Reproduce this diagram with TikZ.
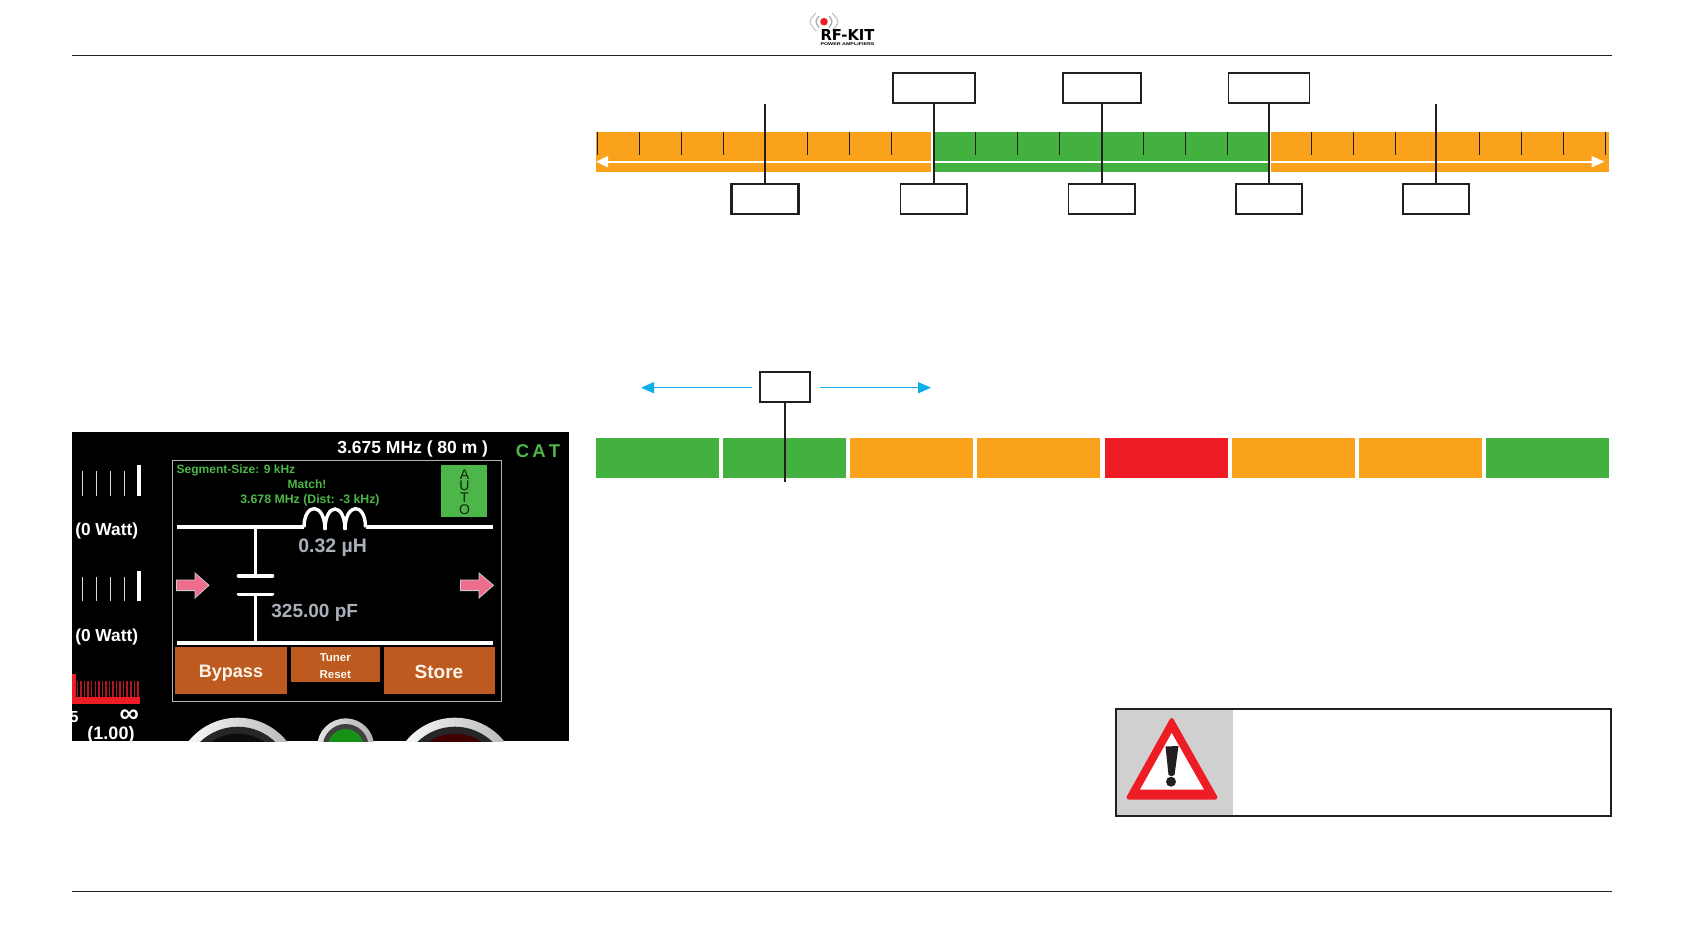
\documentclass[tikz,border=0pt]{standalone}
\usepackage{fontspec}
\setmainfont{Liberation Sans}
\newfontfamily\logofont{DejaVu Sans}
\usetikzlibrary{arrows.meta}
\newcommand{\pxf}[1]{\fontsize{#1}{#1}\selectfont}
\definecolor{barorange}{HTML}{FAA21B}
\definecolor{bargreen}{HTML}{43B140}
\definecolor{barred}{HTML}{EE1C25}
\definecolor{inkline}{HTML}{231F20}
\definecolor{cyanarrow}{HTML}{0FAEE8}
\definecolor{lcdgreen}{HTML}{4CB648}
\definecolor{btn}{HTML}{BC5A1F}
\definecolor{lcdgray}{HTML}{AAB0BA}
\definecolor{pinkarrow}{HTML}{EE6C8C}
\definecolor{warngray}{HTML}{D0D0D0}
\tikzset{
  tagbox/.style={draw=inkline,line width=1.9,fill=white,inner sep=0,outer sep=0,minimum height=30},
  leader/.style={draw=inkline,line width=2},
  tick/.style={draw=inkline,line width=0.8},
  rule/.style={draw=inkline,line width=0.9},
  cyanline/.style={draw=cyanarrow,line width=1.5,-{Triangle[length=13,width=11]}},
  txt/.style={inner sep=0,outer sep=0,font=\bfseries},
  greentxt/.style={txt,text=lcdgreen},
  wire/.style={draw=white,line width=3.8},
  pinkshape/.style={fill=pinkarrow,draw=white!80!black,line width=0.8},
}
\begin{document}
\begin{tikzpicture}[x=1pt,y=-1pt]
\useasboundingbox (0,0) rectangle (1684,947);
% header and footer
\coordinate (hl) at (72,55.5); \coordinate (hr) at (1612,55.5);
\coordinate (fl) at (72,891.5); \coordinate (fr) at (1612,891.5);
\draw[rule] (hl) -- (hr);
\draw[rule] (fl) -- (fr);
% logo
\fill[barred] (824,21.7) circle (3.8);
\draw[gray!70,line width=1.2] (819,16) .. controls (815,21.7) .. (819,27.5);
\draw[gray!70,line width=1.2] (829,16) .. controls (833,21.7) .. (829,27.5);
\draw[gray!45,line width=1.2] (816,13) .. controls (808,21.7) .. (816,31);
\draw[gray!45,line width=1.2] (832,13) .. controls (840,21.7) .. (832,31);
\node[inner sep=0] (logo) at (847.5,35.5) {\resizebox{54pt}{11pt}{\logofont\bfseries RF-KIT}};
\node[inner sep=0] (logosub) at (847.5,43.8) {\resizebox{54pt}{2.8pt}{\bfseries POWER AMPLIFIERS}};
% top bar
\fill[barorange] (596,132) rectangle (931.3,172);
\fill[bargreen] (933.3,132) rectangle (1269,172);
\fill[barorange] (1271,132) rectangle (1609,172);
\foreach \k in {0,1,2,3,5,6,7,9,10,11,13,14,15,17,18,19,21,22,23,24}
  \draw[tick] ({597.3+42*\k},132) -- ({597.3+42*\k},155.5);
\coordinate (wl) at (596,161.7); \coordinate (wr) at (1604.5,161.7);
\draw[white,line width=1.9,{Triangle[length=12,width=11]}-{Triangle[length=13,width=11]}] (wl) -- (wr);
% boxes above
\node[tagbox,minimum width=82,line width=2.2] (ta) at (933.7,88.3) {};
\node[tagbox,minimum width=78] (tb) at (1101.7,88.3) {};
\node[tagbox,minimum width=81] (tc) at (1269,88.3) {};
\coordinate (te) at (765,104);
\coordinate (tf) at (1436,104);
% boxes below
\node[tagbox,minimum width=67,line width=2.2] (ba) at (765,199.3) {};
\node[tagbox,minimum width=66.5] (bb) at (933.7,199.3) {};
\node[tagbox,minimum width=66.5] (bc) at (1101.7,199.3) {};
\node[tagbox,minimum width=66.5] (bd) at (1269,199.3) {};
\node[tagbox,minimum width=66.5] (be) at (1436,199.3) {};
\draw[leader] (te) -- (ba.north);
\draw[leader] (ta.south) -- (bb.north);
\draw[leader] (tb.south) -- (bc.north);
\draw[leader] (tc.south) -- (bd.north);
\draw[leader] (tf) -- (be.north);
% second bar
\foreach \k/\c in {0/bargreen,1/bargreen,2/barorange,3/barorange,4/barred,5/barorange,6/barorange,7/bargreen}
  \fill[\c] ({596+127.15*\k},438) rectangle ++(123,39.7);
\node[tagbox,minimum width=49.5] (mk) at (785,387.3) {};
\coordinate (mkend) at (785,481.7);
\draw[leader] (mk.south) -- (mkend);
\coordinate (al0) at (751.7,387.7); \coordinate (al1) at (641,387.7);
\coordinate (ar0) at (820,387.7); \coordinate (ar1) at (931,387.7);
\draw[cyanline] (al0) -- (al1);
\draw[cyanline] (ar0) -- (ar1);
% warning
\fill[warngray] (1116,709) rectangle (1233,815.7);
\draw[inkline,line width=1.9] (1115.7,709) rectangle (1611,815.7);
\fill[barred,draw=barred,line width=4,line join=round] (1171.7,720) -- (1128.5,797.5) -- (1215.5,797.5) -- cycle;
\fill[white] (1171.7,733) -- (1140,789.7) -- (1204,789.7) -- cycle;
\fill[inkline] (1165.5,746.5) -- (1178.5,746) -- (1174.5,775) .. controls (1173,776.5) and (1170,776.5) .. (1168.5,775) -- cycle;
\fill[inkline] (1171,781.7) circle (5);
% screenshot
\begin{scope}
\clip (72,432) rectangle (569,741);
\fill[black] (72,432) rectangle (569,741);
\draw[white!70!black,line width=0.7] (172.7,460.7) rectangle (501.7,701.3);
\node[txt,text=white] (freq) at (412.7,448.7) {\pxf{17.5}3.675 MHz ( 80 m )};
\node[greentxt] (cat) at (538,451) {\pxf{18.5}C\,A\,T};
\foreach \x in {82.3,96.7,110.7,124.7} {
  \draw[white!85!black,line width=1] (\x,471) -- (\x,495.7);
  \draw[white!85!black,line width=1] (\x,577.3) -- (\x,601);
}
\fill[white] (137,465) rectangle (141,495.7);
\fill[white] (137,571) rectangle (141,601);
\node[txt,text=white] (w1) at (106.7,531.5) {\pxf{17.3}(0 Watt)};
\node[txt,text=white] (w2) at (106.7,637.5) {\pxf{17.3}(0 Watt)};
\node[greentxt,anchor=west] (seg) at (176.7,470.5) {\pxf{12}Segment-Size: 9 kHz};
\node[greentxt] (mt) at (307,484) {\pxf{12}Match!};
\node[greentxt] (dist) at (310,500.5) {\pxf{12.3}3.678 MHz (Dist: -3 kHz)};
\fill[lcdgreen] (441,465) rectangle (487,517);
\foreach \l/\y/\n in {A/474.5/au1,U/485.3/au2,T/497.5/au3,O/509.5/au4}
  \node[inner sep=0,text=black!80!lcdgreen] (\n) at (464.5,\y) {\pxf{14}\l};
% circuit
\draw[wire] (176.7,527.3) -- (304,527.3);
\draw[wire] (365.5,527.3) -- (493,527.3);
\draw[wire] (176.7,642.7) -- (493,642.7);
\draw[white,line width=3.4] (304,527.3) .. controls (304,502) and (325,502) .. (325,530)
  .. controls (325,502) and (345,502) .. (345,530)
  .. controls (345,502) and (365.5,502) .. (365.5,527.3);
\draw[white,line width=2.6] (255.3,527) -- (255.3,575.7);
\draw[white,line width=2.6] (255.3,594.3) -- (255.3,642.7);
\draw[white,line width=3.6,line cap=round] (238.5,575.7) -- (272.5,575.7);
\draw[white,line width=3.6,line cap=round] (238.5,594.3) -- (272.5,594.3);
\node[txt,text=lcdgray] (ind) at (332.7,547.8) {\pxf{19.5}0.32 µH};
\node[txt,text=lcdgray] (cap) at (314.7,613) {\pxf{19}325.00 pF};
\draw[pinkshape,line join=miter] (176.5,580) -- (195,580) -- (195,573) -- (209,585.3) -- (195,598) -- (195,590.6) -- (176.5,590.6) -- cycle;
\draw[pinkshape,line join=miter] (460.5,580) -- (479,580) -- (479,573) -- (493.5,585.3) -- (479,598) -- (479,590.6) -- (460.5,590.6) -- cycle;
% buttons
\fill[btn] (175,647.3) rectangle (286.7,694.3);
\fill[btn] (291.3,647.3) rectangle (379.7,682.3);
\fill[btn] (384,647.3) rectangle (494.7,694.3);
\node[txt,text=white!92!orange] (bypass) at (231,673.5) {\pxf{18}Bypass};
\node[txt,text=white!92!orange] (store) at (439,671.5) {\pxf{19}Store};
\node[txt,text=white!92!orange] (tuner) at (335.3,658) {\pxf{11.5}Tuner};
\node[txt,text=white!92!orange] (reset) at (335.3,674.3) {\pxf{11.5}Reset};
% meter
\fill[barred] (72,696.7) rectangle (139.7,704.3);
\fill[barred] (72,674.3) rectangle (75.7,700);
\foreach \i in {0,...,17}
  \draw[barred!75!black,line width=1.5] ({77.5+\i*3.55},681) -- ({77.5+\i*3.55},697);
\node[txt,text=white] (five) at (74,717) {\pxf{16}5};
\node[txt,text=white] (inf) at (129.3,716) {\pxf{27}∞};
\node[txt,text=white] (swr) at (111,735) {\pxf{18}(1.00)};
% knobs
\foreach \x/\c in {237.7/black!90!gray,455/black!75!red} {
  \shade[left color=white,right color=gray!60] (\x,780.7) circle (63);
  \fill[black!85] (\x,780.7) circle (54);
  \fill[\c] (\x,780.7) circle (47);
}
\shade[left color=white!80!gray,right color=gray!60] (345.7,747) circle (28.6);
\fill[black!75] (345.7,747) circle (23);
\fill[green!50!black!70!lcdgreen] (345.7,747) circle (18);
\end{scope}
\end{tikzpicture}
\end{document}
